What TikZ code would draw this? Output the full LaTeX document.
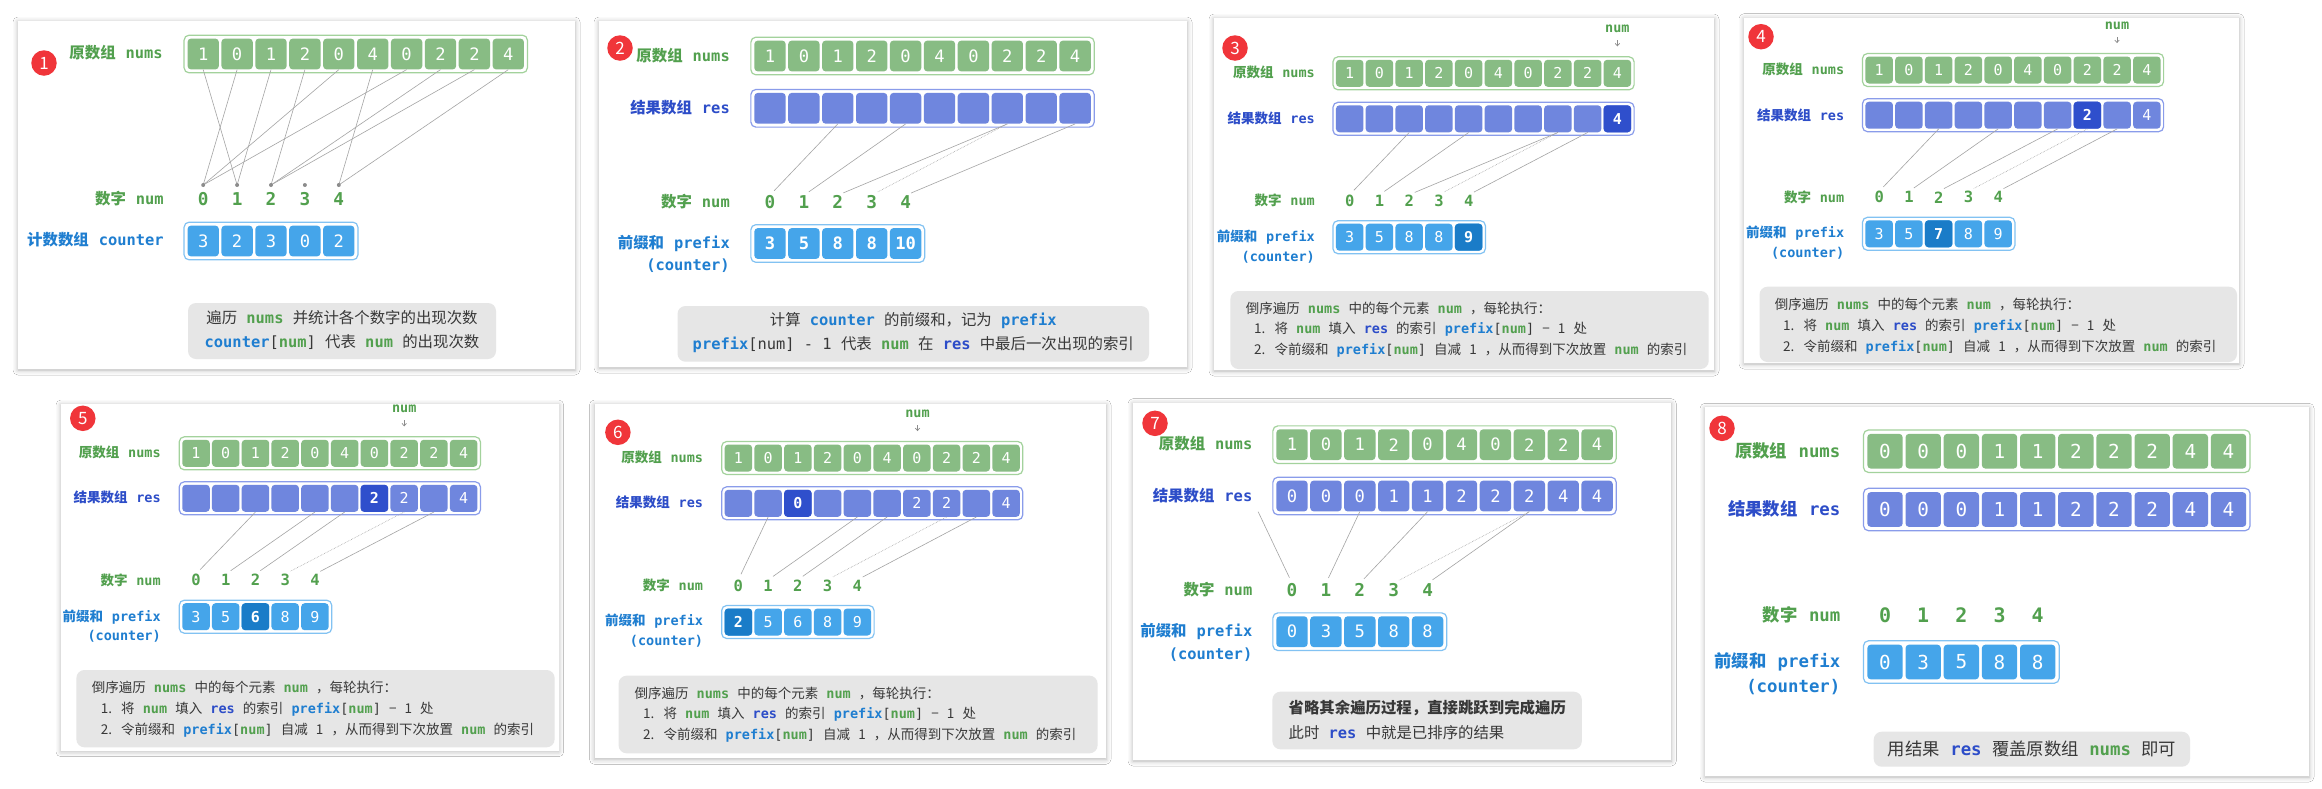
\documentclass[tikz,border=0pt]{standalone}
\usepackage{fontspec}
\setmainfont{Noto Sans CJK SC}
\setmonofont{DejaVu Sans Mono}
\usetikzlibrary{arrows.meta, calc, shadows.blur}
\definecolor{gtext}{HTML}{52A04E}
\definecolor{gcell}{HTML}{88BC84}
\definecolor{gbox}{HTML}{A3D29C}
\definecolor{rtext}{HTML}{2D4DC8}
\definecolor{rcell}{HTML}{6F86DE}
\definecolor{rdeep}{HTML}{2F4FCC}
\definecolor{rbox}{HTML}{8A9CEA}
\definecolor{ctext}{HTML}{1F7ED0}
\definecolor{ccell}{HTML}{45A5EA}
\definecolor{cdeep}{HTML}{1A7CC8}
\definecolor{cbox}{HTML}{82C2F2}
\definecolor{capbg}{HTML}{E6E6E6}
\definecolor{captext}{HTML}{383838}
\definecolor{badgered}{HTML}{F0353A}
\definecolor{linkc}{HTML}{A4A4A4}
\definecolor{tipc}{HTML}{8C8C8C}

\newcommand{\kwg}[1]{{\ttfamily\bfseries\color{gtext}#1}}
\newcommand{\kwc}[1]{{\ttfamily\bfseries\color{ctext}#1}}
\newcommand{\kwr}[1]{{\ttfamily\bfseries\color{rtext}#1}}
\newcommand{\kwp}[1]{{\ttfamily\color{captext}#1}}

\newcommand{\Lnums}{原数组 \texttt{nums}}
\newcommand{\Lres}{结果数组 \texttt{res}}
\newcommand{\Lnum}{数字 \texttt{num}}
\newcommand{\Lpre}{前缀和 \texttt{prefix}}
\newcommand{\Lcnt}{\texttt{(counter)}}

\newcommand{\stepA}{倒序遍历 \kwg{nums} 中的每个元素 \kwg{num} ，每轮执行：}
\newcommand{\stepB}{1. 将 \kwg{num} 填入 \kwr{res} 的索引 \kwc{prefix}\kwp{[}\kwg{num}\kwp{]} − 1 处}
\newcommand{\stepC}{2. 令前缀和 \kwc{prefix}\kwp{[}\kwg{num}\kwp{]} 自减 1 ，从而得到下次放置 \kwg{num} 的索引}

% name, x of first cell, y, pitch, last index, colour family, values
\newcommand{\arr}[7]{%
  \foreach \v [count=\i from 0] in {#7}{
    \node[cell, #6cell] (#1\i) at ({#2+\i*#4}, #3) {\v};
  }
  \draw[#6box] ($(#10.north west)+(-\pad,-\pad)$) rectangle ($(#1#5.south east)+(\pad,\pad)$);
}

\begin{document}
\begin{tikzpicture}[x=1pt, y=-1pt,
    panel/.style={fill=white, blur shadow={shadow blur radius=5pt, shadow xshift=0pt, shadow yshift=-1pt, shadow opacity=30}},
    badge/.style={circle, fill=badgered, text=white, minimum size=25.5pt, inner sep=0pt, font=\fontsize{17}{17}\selectfont},
    lab/.style={anchor=east, inner sep=0pt, font=\bfseries\fontsize{13.5}{16}\selectfont\setlength{\spaceskip}{.65em}},
    cell/.style={rounded corners=3.5pt, minimum width=27.5pt, minimum height=27pt, inner sep=0pt, text=white, font=\ttfamily\fontsize{15}{15}\selectfont},
    grcell/.style={fill=gcell},
    grbox/.style={draw=gbox, line width=1.2pt, rounded corners=5pt},
    rscell/.style={fill=rcell},
    rsbox/.style={draw=rbox, line width=1.2pt, rounded corners=5pt},
    pfcell/.style={fill=ccell},
    pfbox/.style={draw=cbox, line width=1.2pt, rounded corners=5pt},
    pbcell/.style={fill=ccell, font=\ttfamily\bfseries\fontsize{15}{15}\selectfont},
    pbbox/.style={pfbox},
    rhot/.style={fill=rdeep, font=\ttfamily\bfseries\fontsize{15}{15}\selectfont},
    chot/.style={fill=cdeep, font=\ttfamily\bfseries\fontsize{15}{15}\selectfont},
    numd/.style={inner sep=0pt, text=gtext, font=\ttfamily\bfseries\fontsize{15.5}{16}\selectfont},
    ptr/.style={inner sep=0pt, text=gtext, font=\ttfamily\bfseries\fontsize{13.5}{16}\selectfont},
    ptrtip/.style={draw=tipc, line width=0.7pt, -{Straight Barb[length=2.5pt, width=4.5pt]}},
    link/.style={draw=linkc, line width=0.6pt},
    tonum/.style={link, shorten >=6pt},
    nocount/.style={densely dotted},
    capbox/.style={fill=capbg, rounded corners=8pt},
    captxt/.style={inner sep=0pt, text=captext, font=\fontsize{13.5}{16}\selectfont\setlength{\spaceskip}{.6em}},
]
\useasboundingbox (0,0) rectangle (2322,788);
\fill[white] (0,0) rectangle (2322,788);

% ================================================================ 1: count
\fill[panel] (18,21) rectangle (575,369);
\node[badge] (b1) at (44,63) {1};
\begin{scope}[nodes={scale=1.141}]
\def\pad{3.2}
\node[lab, text=gtext] (l1-a) at (163,53) {\Lnums};
\arr{a1-}{203.2}{54}{33.9}{9}{gr}{1,0,1,2,0,4,0,2,2,4}
\node[lab, text=gtext] (l1-k) at (164,199) {\Lnum};
\foreach \k in {0,...,4}{
    \node[numd] (k1-\k) at ({203.2+\k*33.9}, 199) {\k};
    \coordinate (d1-\k) at ({203.2+\k*33.9}, 185);
}
\foreach \i/\v in {0/1, 1/0, 2/1, 3/2, 4/0, 5/4, 6/0, 7/2, 8/2, 9/4}{
    \draw[link] (a1-\i.south) -- (d1-\v);
}
\foreach \k in {0,...,4}{ \fill[tipc] (d1-\k) circle (2pt); }
\node[lab, text=ctext] (l1-c) at (164,240) {计数数组 \texttt{counter}};
\arr{c1-}{203.2}{241}{33.9}{4}{pf}{3,2,3,0,2}
\fill[capbox] (188,303) rectangle (496,359);
\node[captxt] (t1-a) at (342,318) {遍历 \kwg{nums} 并统计各个数字的出现次数};
\node[captxt] (t1-b) at (342,342) {\kwc{counter}\kwp{[}\kwg{num}\kwp{]} 代表 \kwg{num} 的出现次数};
\end{scope}

% ================================================================ 2: prefix sum
\fill[panel] (599,21) rectangle (1187,367);
\node[badge] (b2) at (620,48) {2};
\begin{scope}[nodes={scale=1.141}]
\def\pad{3.2}
\node[lab, text=gtext] (l2-a) at (730,56) {\Lnums};
\arr{a2-}{770}{56}{33.9}{9}{gr}{1,0,1,2,0,4,0,2,2,4}
\node[lab, text=rtext] (l2-r) at (730,108) {\Lres};
\arr{r2-}{770}{108.3}{33.9}{9}{rs}{{},{},{},{},{},{},{},{},{},{}}
\node[lab, text=gtext] (l2-k) at (730,202) {\Lnum};
\foreach \k in {0,...,4}{ \node[numd] (k2-\k) at ({770+\k*33.9}, 202) {\k}; }
\node[lab, text=ctext] (l2-p) at (730,243) {\Lpre};
\node[lab, text=ctext] (l2-c) at (730,266) {\Lcnt};
\arr{c2-}{770}{243.5}{33.9}{4}{pb}{3,5,8,8,10}
\foreach \k/\j in {0/2, 1/4, 2/7, 4/9}{ \draw[tonum] (r2-\j.south) -- (k2-\k.north); }
\draw[tonum, nocount] (r2-7.south) -- (k2-3.north);
\fill[capbox] (677.5,306) rectangle (1149,361.7);
\node[captxt] (t2-a) at (913.3,321) {计算 \kwc{counter} 的前缀和，记为 \kwc{prefix}};
\node[captxt] (t2-b) at (913.3,345) {\kwc{prefix}\kwp{[num] - 1} 代表 \kwg{num} 在 \kwr{res} 中最后一次出现的索引};
\end{scope}

% ================================================================ 3: first step
\fill[panel] (1214,18) rectangle (1714,370);
\node[badge] (b3) at (1235,48) {3};
\begin{scope}
\def\pad{2.8}
\node[ptr] (p3) at (1617.4,29.3) {num};
\draw[ptrtip] (p3.south) ++(0,7) -- ++(0,6);
\node[lab, text=gtext] (l3-a) at (1315,72.7) {\Lnums};
\arr{a3-}{1349.7}{73.3}{29.74}{9}{gr}{1,0,1,2,0,4,0,2,2,4}
\node[lab, text=rtext] (l3-r) at (1315,118.3) {\Lres};
\arr{r3-}{1349.7}{118.8}{29.74}{9}{rs}{{},{},{},{},{},{},{},{},{},{}}
\node[cell, rhot] (r3-h) at (r3-9) {4};
\node[lab, text=gtext] (l3-k) at (1315,200.7) {\Lnum};
\foreach \k in {0,...,4}{ \node[numd] (k3-\k) at ({1349.7+\k*29.74}, 200.7) {\k}; }
\node[lab, text=ctext] (l3-p) at (1315,236.7) {\Lpre};
\node[lab, text=ctext] (l3-c) at (1315,257.3) {\Lcnt};
\arr{c3-}{1349.7}{237.2}{29.74}{4}{pf}{3,5,8,8,9}
\node[cell, chot] (c3-h) at (c3-4) {9};
\foreach \k/\j in {0/2, 1/4, 2/7, 4/8}{ \draw[tonum] (r3-\j.south) -- (k3-\k.north); }
\draw[tonum, nocount] (r3-7.south) -- (k3-3.north);
\fill[capbox] (1230.4,291) rectangle (1708.7,369);
\node[captxt, anchor=west] (t3-a) at (1245.6,308.3) {\stepA};
\node[captxt, anchor=west] (t3-b) at (1254,329.3) {\stepB};
\node[captxt, anchor=west] (t3-c) at (1254,350) {\stepC};
\end{scope}

% ================================================================ 4: second step
\fill[panel] (1744,17.7) rectangle (2239,363);
\node[badge] (b4) at (1761,36.7) {4};
\begin{scope}
\def\pad{2.8}
\node[ptr] (p4) at (2117,26) {num};
\draw[ptrtip] (p4.south) ++(0,7) -- ++(0,6);
\node[lab, text=gtext] (l4-a) at (1844.4,69.3) {\Lnums};
\arr{a4-}{1879.2}{70}{29.74}{9}{gr}{1,0,1,2,0,4,0,2,2,4}
\node[lab, text=rtext] (l4-r) at (1844.4,115) {\Lres};
\arr{r4-}{1879.2}{115.2}{29.74}{9}{rs}{{},{},{},{},{},{},{},{},{},4}
\node[cell, rhot] (r4-h) at (r4-7) {2};
\node[lab, text=gtext] (l4-k) at (1844.4,197.3) {\Lnum};
\foreach \k in {0,...,4}{ \node[numd] (k4-\k) at ({1879.2+\k*29.74}, 197.3) {\k}; }
\node[lab, text=ctext] (l4-p) at (1844.4,233.3) {\Lpre};
\node[lab, text=ctext] (l4-c) at (1844.4,253.3) {\Lcnt};
\arr{c4-}{1879.2}{233.8}{29.74}{4}{pf}{3,5,7,8,9}
\node[cell, chot] (c4-h) at (c4-2) {7};
\foreach \k/\j in {0/2, 1/4, 2/6, 4/8}{ \draw[tonum] (r4-\j.south) -- (k4-\k.north); }
\draw[tonum, nocount] (r4-7.south) -- (k4-3.north);
\fill[capbox] (1759.5,286.7) rectangle (2237,362);
\node[captxt, anchor=west] (t4-a) at (1774.6,305) {\stepA};
\node[captxt, anchor=west] (t4-b) at (1783,326) {\stepB};
\node[captxt, anchor=west] (t4-c) at (1783,346.7) {\stepC};
\end{scope}

% ================================================================ 5: third step
\fill[panel] (61,404) rectangle (558.7,750.7);
\node[badge] (b5) at (82.8,418.3) {5};
\begin{scope}
\def\pad{2.8}
\node[ptr] (p5) at (404.2,409.3) {num};
\draw[ptrtip] (p5.south) ++(0,7) -- ++(0,6);
\node[lab, text=gtext] (l5-a) at (160.9,452.7) {\Lnums};
\arr{a5-}{196}{453.3}{29.74}{9}{gr}{1,0,1,2,0,4,0,2,2,4}
\node[lab, text=rtext] (l5-r) at (160.9,497.7) {\Lres};
\arr{r5-}{196}{498.3}{29.74}{9}{rs}{{},{},{},{},{},{},{},2,{},4}
\node[cell, rhot] (r5-h) at (r5-6) {2};
\node[lab, text=gtext] (l5-k) at (160.9,580) {\Lnum};
\foreach \k in {0,...,4}{ \node[numd] (k5-\k) at ({196+\k*29.74}, 580) {\k}; }
\node[lab, text=ctext] (l5-p) at (160.9,616.7) {\Lpre};
\node[lab, text=ctext] (l5-c) at (160.9,636.7) {\Lcnt};
\arr{c5-}{196}{616.7}{29.74}{4}{pf}{3,5,6,8,9}
\node[cell, chot] (c5-h) at (c5-2) {6};
\foreach \k/\j in {0/2, 1/4, 2/5, 4/8}{ \draw[tonum] (r5-\j.south) -- (k5-\k.north); }
\draw[tonum, nocount] (r5-7.south) -- (k5-3.north);
\fill[capbox] (76.4,670) rectangle (554.6,747.3);
\node[captxt, anchor=west] (t5-a) at (91.6,687.7) {\stepA};
\node[captxt, anchor=west] (t5-b) at (100.7,709) {\stepB};
\node[captxt, anchor=west] (t5-c) at (100.7,730) {\stepC};
\end{scope}

% ================================================================ 6: fourth step
\fill[panel] (594.5,404) rectangle (1106,758.3);
\node[badge] (b6) at (617.9,432.3) {6};
\begin{scope}
\def\pad{2.8}
\node[ptr] (p6) at (917.5,414) {num};
\draw[ptrtip] (p6.south) ++(0,7) -- ++(0,6);
\node[lab, text=gtext] (l6-a) at (703.3,457.7) {\Lnums};
\arr{a6-}{738.4}{458}{29.74}{9}{gr}{1,0,1,2,0,4,0,2,2,4}
\node[lab, text=rtext] (l6-r) at (703.3,502.7) {\Lres};
\arr{r6-}{738.4}{503.3}{29.74}{9}{rs}{{},{},{},{},{},{},2,2,{},4}
\node[cell, rhot] (r6-h) at (r6-2) {0};
\node[lab, text=gtext] (l6-k) at (703.3,585.7) {\Lnum};
\foreach \k in {0,...,4}{ \node[numd] (k6-\k) at ({738.4+\k*29.74}, 585.7) {\k}; }
\node[lab, text=ctext] (l6-p) at (703.3,621) {\Lpre};
\node[lab, text=ctext] (l6-c) at (703.3,641.7) {\Lcnt};
\arr{c6-}{738.4}{622}{29.74}{4}{pf}{2,5,6,8,9}
\node[cell, chot] (c6-h) at (c6-0) {2};
\foreach \k/\j in {0/1, 1/4, 2/5, 4/8}{ \draw[tonum] (r6-\j.south) -- (k6-\k.north); }
\draw[tonum, nocount] (r6-7.south) -- (k6-3.north);
\fill[capbox] (618.6,675.7) rectangle (1097.6,753.3);
\node[captxt, anchor=west] (t6-a) at (634.4,693.3) {\stepA};
\node[captxt, anchor=west] (t6-b) at (643,714) {\stepB};
\node[captxt, anchor=west] (t6-c) at (643,735) {\stepC};
\end{scope}

% ================================================================ 7: done
\fill[panel] (1133,402.7) rectangle (1671.3,760);
\begin{scope}[nodes={scale=1.141}]
\def\pad{3.2}
\node[lab, text=gtext] (l7-a) at (1252.5,444) {\Lnums};
\arr{a7-}{1292}{444.7}{33.9}{9}{gr}{1,0,1,2,0,4,0,2,2,4}
\node[lab, text=rtext] (l7-r) at (1252.5,496) {\Lres};
\arr{r7-}{1292}{496}{33.9}{9}{rs}{0,0,0,1,1,2,2,2,4,4}
\coordinate (r7-m) at ($(r7-0.south)+(-33.9,0)$);
\node[lab, text=gtext] (l7-k) at (1252.5,590) {\Lnum};
\foreach \k in {0,...,4}{ \node[numd] (k7-\k) at ({1292+\k*33.9}, 590) {\k}; }
\node[lab, text=ctext] (l7-p) at (1252.5,631) {\Lpre};
\node[lab, text=ctext] (l7-c) at (1252.5,654.3) {\Lcnt};
\arr{c7-}{1292}{631.7}{33.9}{4}{pf}{0,3,5,8,8}
\draw[tonum] (r7-m) -- (k7-0.north);
\foreach \k/\j in {1/2, 2/4, 4/7}{ \draw[tonum] (r7-\j.south) -- (k7-\k.north); }
\draw[tonum, nocount] (r7-7.south) -- (k7-3.north);
\fill[capbox] (1272.4,691.7) rectangle (1581.8,749.3);
\node[captxt, anchor=west] (t7-a) at (1288.4,708.3) {\bfseries 省略其余遍历过程，直接跳跃到完成遍历};
\node[captxt, anchor=west] (t7-b) at (1288.4,732.3) {此时 \kwr{res} 中就是已排序的结果};
\end{scope}
\node[badge] (b7) at (1155,423.3) {7};

% ================================================================ 8: copy back
\fill[panel] (1705,407.3) rectangle (2309,776);
\begin{scope}[nodes={scale=1.286}]
\def\pad{3.6}
\node[lab, text=gtext] (l8-a) at (1840.6,451) {\Lnums};
\arr{a8-}{1885}{451.2}{38.17}{9}{gr}{0,0,0,1,1,2,2,2,4,4}
\node[lab, text=rtext] (l8-r) at (1840.6,509) {\Lres};
\arr{r8-}{1885}{509.5}{38.17}{9}{rs}{0,0,0,1,1,2,2,2,4,4}
\node[lab, text=gtext] (l8-k) at (1840.6,615) {\Lnum};
\foreach \k in {0,...,4}{ \node[numd] (k8-\k) at ({1885+\k*38.17}, 615) {\k}; }
\node[lab, text=ctext] (l8-p) at (1840.6,661.7) {\Lpre};
\node[lab, text=ctext] (l8-c) at (1840.6,687.3) {\Lcnt};
\arr{c8-}{1885}{662}{38.17}{4}{pf}{0,3,5,8,8}
\fill[capbox] (1873.7,731.7) rectangle (2190,766.7);
\node[captxt] (t8-a) at (2032,749.3) {用结果 \kwr{res} 覆盖原数组 \kwg{nums} 即可};
\end{scope}
\node[badge] (b8) at (1722,428.3) {8};
\end{tikzpicture}
\end{document}
